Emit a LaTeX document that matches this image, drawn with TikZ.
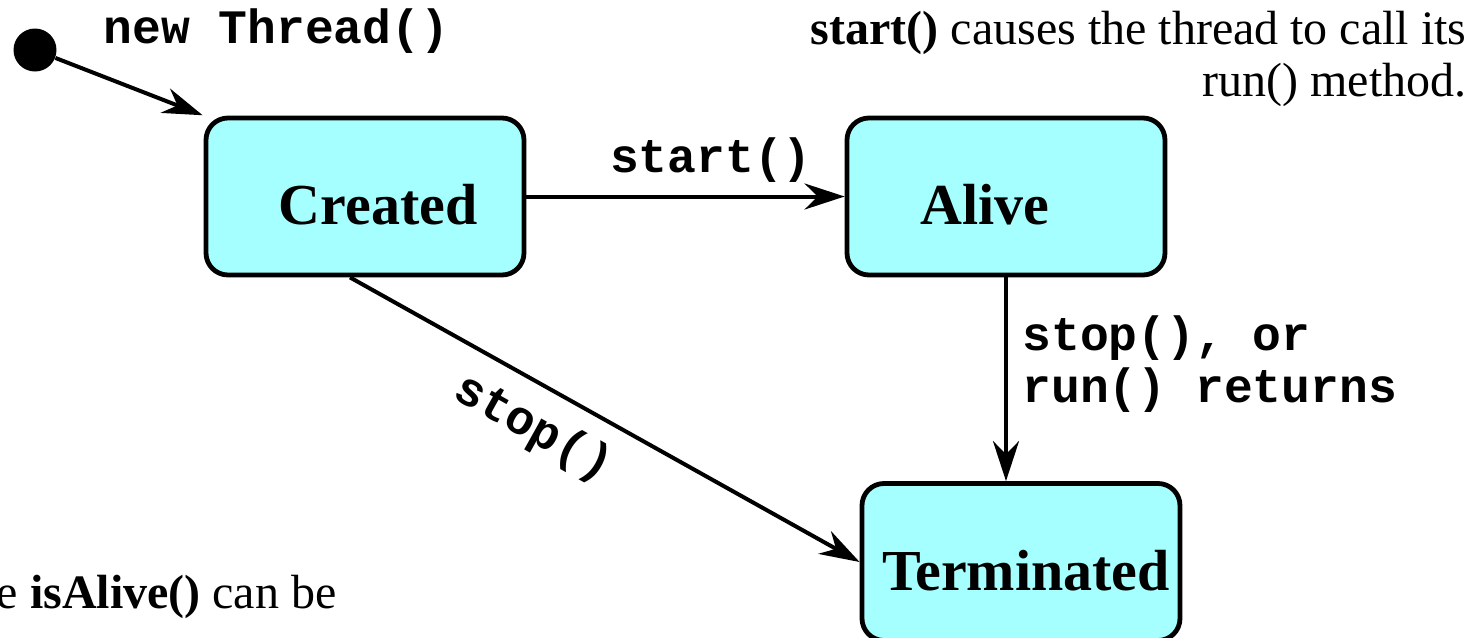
\documentclass[tikz,border=0pt]{standalone}
\usepackage{fontspec}
\setmainfont{Liberation Serif}
\setmonofont{Liberation Mono}
\usepackage{xcolor}
\usetikzlibrary{arrows.meta}
\definecolor{statecyan}{RGB}{166,255,255}

\begin{document}
\begin{tikzpicture}[x=0.5pt, y=-0.5pt,
		state_node/.style={draw, line width=2.4pt, fill=statecyan, rounded corners=11pt, minimum width=159pt, minimum height=78.5pt},
		state_text/.style={font=\fontsize{29}{34}\selectfont\bfseries, anchor=base},
		code_text/.style={font=\fontsize{24}{26}\selectfont\ttfamily\bfseries, inner sep=0pt},
		note_text/.style={font=\fontsize{24}{26}\selectfont, inner sep=0pt},
		trans/.style={-{Stealth[length=20pt, width=13pt, inset=6.5pt]}, line width=2pt}]
				\useasboundingbox (0,0) rectangle (1480,638);
				\clip (0,0) rectangle (1480,638);
				
				\node[circle, fill, minimum size=21.5pt, inner sep=0pt] (0) at (35,50) {};
				\node[state_node, label={[state_text, xshift=6.5pt, yshift=-4.25pt]center:Created}] (1) at (365,196.5) {};
				\node[state_node, label={[state_text, xshift=-10.5pt, yshift=-4.25pt]center:Alive}] (2) at (1006,196.5) {};
				\node[state_node, label={[state_text, xshift=2.5pt, yshift=-4.25pt]center:Terminated}] (3) at (1021,562) {};
				
				\path[trans]
				(0) edge[shorten >=0.5pt] (1.north west)
				(1) edge node[code_text, pos=0.58, anchor=base, yshift=12pt] {start()} (2)
				([xshift=-7.5pt]1.south) edge node[code_text, pos=0.4, sloped, yshift=-21.4pt] {stop()} (3.west)
				(2.south) edge (2.south |- 3.north);
				
				\node[code_text, anchor=base west] (newlbl) at (103,43) {new Thread()};
				\node[code_text, align=left, anchor=base west] (stoplbl) at (1022,402) {stop(), or\\run() returns};
				\node[note_text, align=right, anchor=base east] (startnote) at (1467,96) {\textbf{start()} causes the thread to call its\\run() method.};
				\node[note_text, anchor=base east] (alivenote) at (337,608) {The predicate \textbf{isAlive()} can be};
			\end{tikzpicture}
\end{document}
